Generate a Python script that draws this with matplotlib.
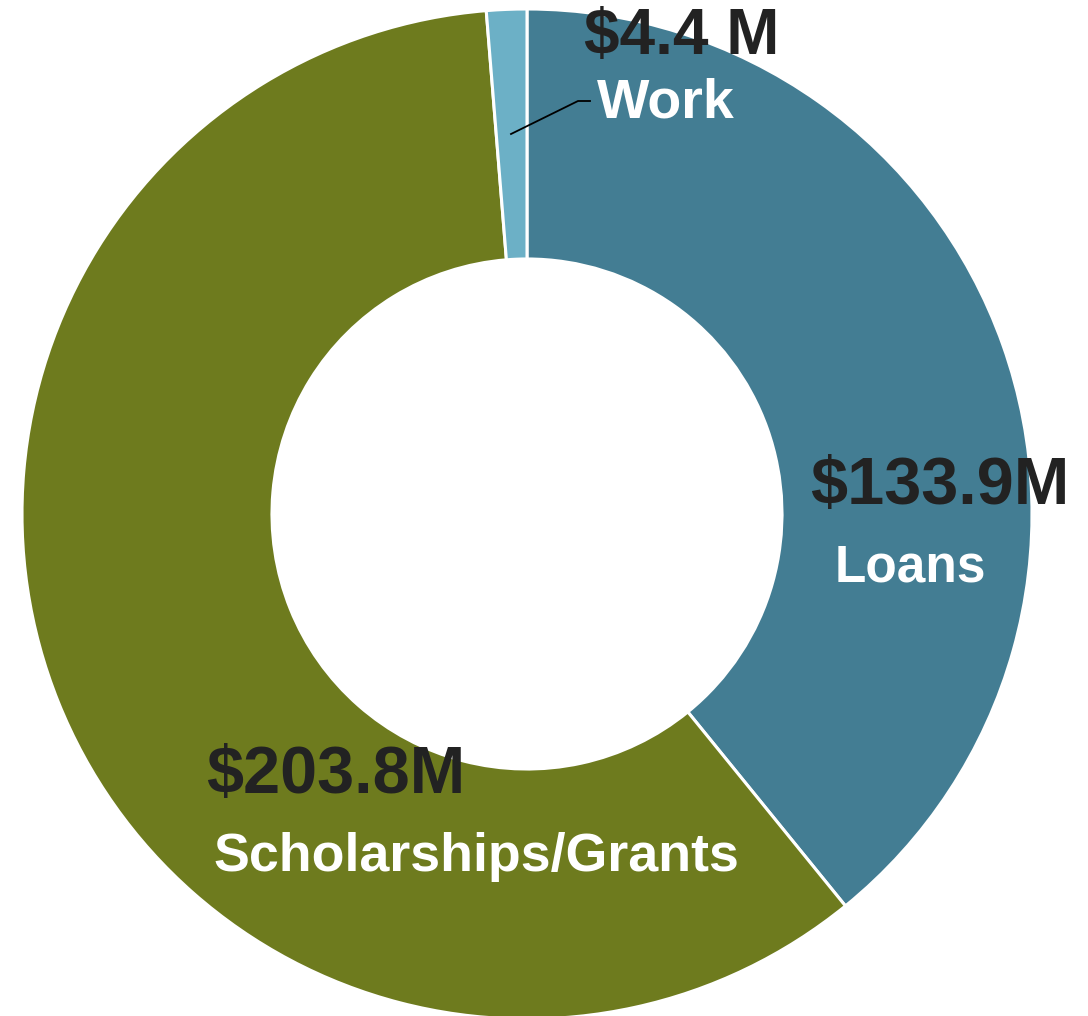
import matplotlib
matplotlib.use("Agg")
import matplotlib.pyplot as plt

# aid amounts in $M
labels = ["Loans", "Scholarships/Grants", "Work"]
amounts = [133.9, 203.8, 4.4]
value_text = ["$133.9M", "$203.8M", "$4.4 M"]
colors = ["#437D93", "#6E7B1E", "#6CB0C6"]

W, H = 1088, 1016
CX, CY, R = 527, 514, 505


def px(x, y):
    # pixel position -> data coords (pie radius = 1)
    return (x - CX) / R, (CY - y) / R


plt.rcParams["font.family"] = ["Liberation Sans", "DejaVu Sans"]

fig = plt.figure(figsize=(W / 100, H / 100), dpi=100)
ax = fig.add_axes([0, 0, 1, 1])

ax.pie(amounts, colors=colors, startangle=90, counterclock=False, radius=1,
       wedgeprops=dict(width=0.495, edgecolor="white", linewidth=2.2))

ax.set_aspect("auto")
ax.set_xlim(-CX / R, (W - CX) / R)
ax.set_ylim(-(H - CY) / R, CY / R)
ax.axis("off")

dark = "#222222"
# Loans
ax.text(*px(940, 487), value_text[0], fontsize=48, fontweight="bold", color=dark, ha="center", va="center")
ax.text(*px(910, 568), labels[0], fontsize=37, fontweight="bold", color="white", ha="center", va="center")
# Scholarships/Grants
ax.text(*px(336, 776), value_text[1], fontsize=48, fontweight="bold", color=dark, ha="center", va="center")
ax.text(*px(476, 857), labels[1], fontsize=38.7, fontweight="bold", color="white", ha="center", va="center")
# Work
ax.text(*px(682, 37), value_text[2], fontsize=46, fontweight="bold", color=dark, ha="center", va="center")
ax.text(*px(666, 103), labels[2], fontsize=40, fontweight="bold", color="white", ha="center", va="center")

# leader line for the small slice
lx, ly = zip(px(511, 134), px(578, 101), px(590, 101))
ax.plot(lx, ly, color="black", linewidth=1.3)

fig.savefig("out.png", dpi=100)
